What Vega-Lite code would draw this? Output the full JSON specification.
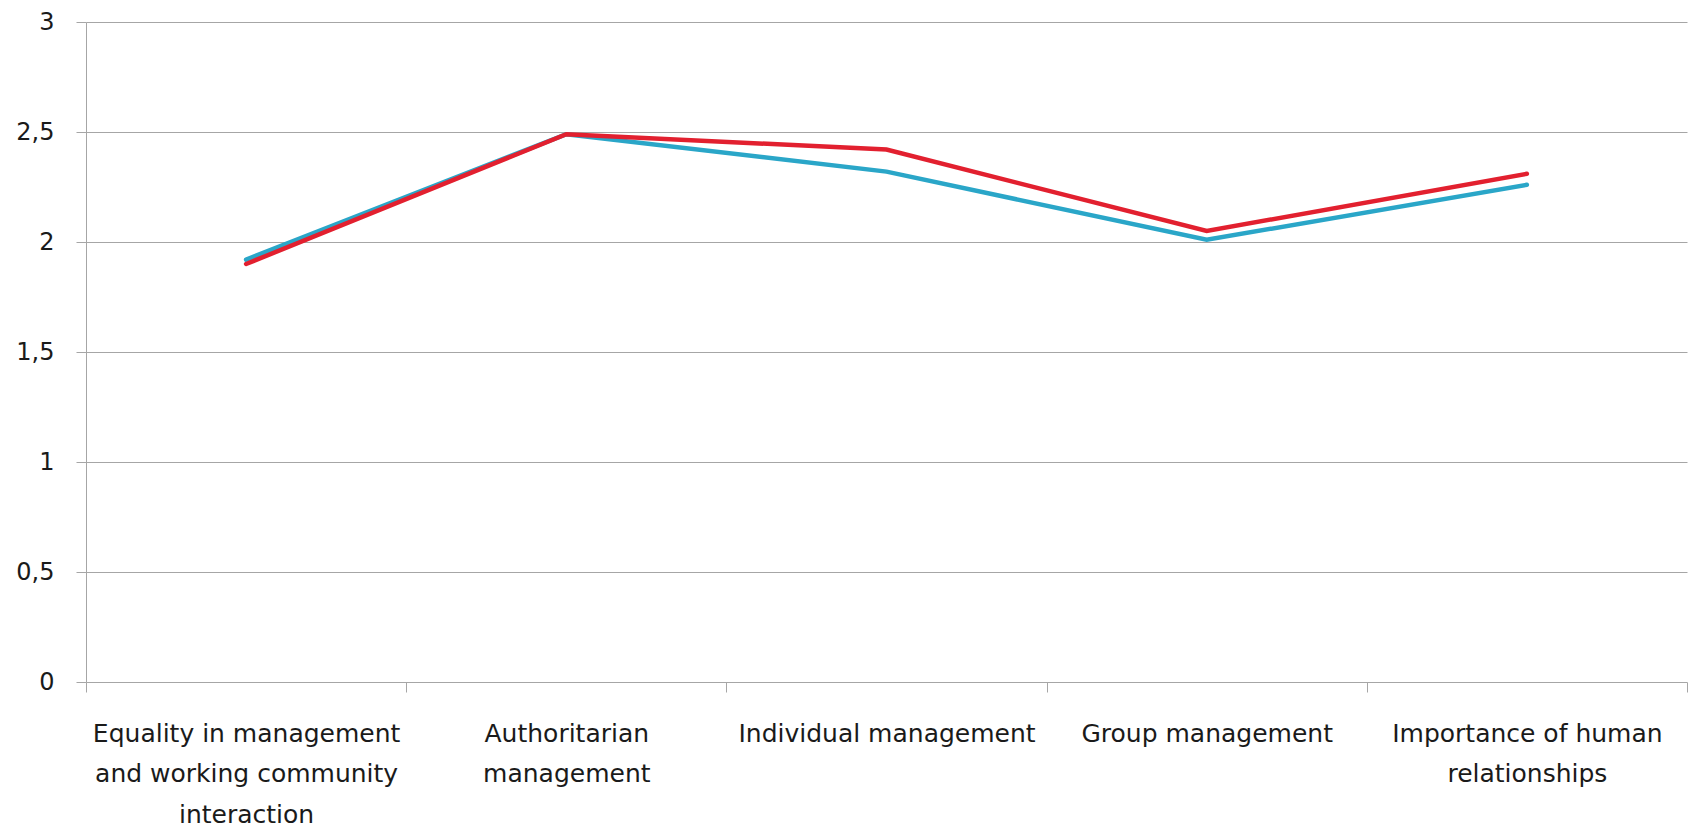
{
  "$schema": "https://vega.github.io/schema/vega-lite/v6.json",
  "width": 1601,
  "height": 660,
  "autosize": {"type": "none"},
  "padding": {"left": 86, "top": 22, "right": 6, "bottom": 151},
  "background": "white",
  "config": {"view": {"stroke": null}, "font": "DejaVu Sans"},
  "data": {
    "values": [
      {"category": "Equality in management and working community interaction", "series": "Series 1", "value": 1.92},
      {"category": "Authoritarian management", "series": "Series 1", "value": 2.49},
      {"category": "Individual management", "series": "Series 1", "value": 2.32},
      {"category": "Group management", "series": "Series 1", "value": 2.01},
      {"category": "Importance of human relationships", "series": "Series 1", "value": 2.26},
      {"category": "Equality in management and working community interaction", "series": "Series 2", "value": 1.90},
      {"category": "Authoritarian management", "series": "Series 2", "value": 2.49},
      {"category": "Individual management", "series": "Series 2", "value": 2.42},
      {"category": "Group management", "series": "Series 2", "value": 2.05},
      {"category": "Importance of human relationships", "series": "Series 2", "value": 2.31}
    ]
  },
  "mark": {"type": "line", "strokeWidth": 4.5, "strokeCap": "round", "strokeJoin": "miter"},
  "encoding": {
    "x": {
      "field": "category",
      "type": "nominal",
      "sort": null,
      "scale": {"type": "band", "paddingInner": 0, "paddingOuter": 0},
      "axis": {
        "title": null,
        "labelAngle": 0,
        "tickBand": "extent",
        "grid": false,
        "domain": false,
        "ticks": true,
        "tickSize": 10,
        "tickColor": "#a6a6a6",
        "labelFont": "DejaVu Sans",
        "labelFontSize": 25,
        "labelColor": "#1a1a1a",
        "labelPadding": 29,
        "labelLineHeight": 40.5,
        "labelLimit": 0,
        "labelExpr": "datum.value == 'Equality in management and working community interaction' ? ['Equality in management', 'and working community', 'interaction'] : datum.value == 'Authoritarian management' ? ['Authoritarian', 'management'] : datum.value == 'Importance of human relationships' ? ['Importance of human', 'relationships'] : datum.value"
      }
    },
    "y": {
      "field": "value",
      "type": "quantitative",
      "scale": {"domain": [0, 3], "nice": false, "zero": true},
      "axis": {
        "title": null,
        "values": [0, 0.5, 1, 1.5, 2, 2.5, 3],
        "grid": true,
        "gridColor": "#a6a6a6",
        "gridWidth": 1,
        "domain": true,
        "domainColor": "#a6a6a6",
        "tickSize": 10,
        "tickColor": "#a6a6a6",
        "labelFont": "DejaVu Sans",
        "labelFontSize": 24,
        "labelColor": "#1a1a1a",
        "labelPadding": 22,
        "labelExpr": "replace(toString(datum.value), '.', ',')"
      }
    },
    "color": {
      "field": "series",
      "type": "nominal",
      "scale": {"domain": ["Series 1", "Series 2"], "range": ["#2aa6c8", "#e2202f"]},
      "legend": null
    }
  }
}
